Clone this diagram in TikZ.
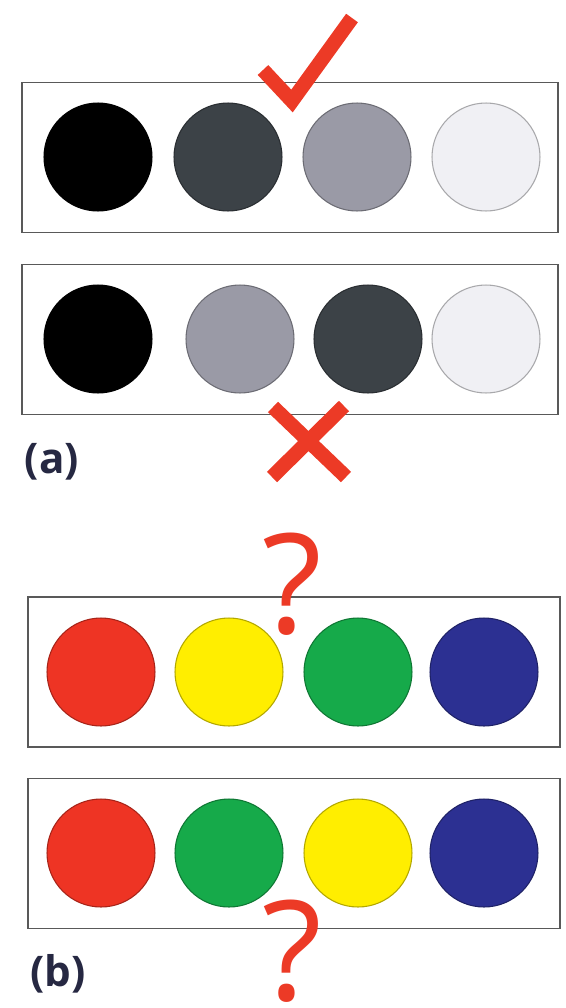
\documentclass[tikz,border=0pt]{standalone}
\usepackage{fontspec}
\setmainfont{Open Sans}
\definecolor{signred}{RGB}{236,58,38}
\definecolor{tagblue}{RGB}{38,40,66}
\definecolor{shadeA}{RGB}{0,0,0}
\definecolor{shadeB}{RGB}{60,66,71}
\definecolor{shadeC}{RGB}{154,154,166}
\definecolor{shadeD}{RGB}{240,240,244}
\definecolor{hueR}{RGB}{238,52,36}
\definecolor{hueY}{RGB}{255,238,0}
\definecolor{hueG}{RGB}{22,170,74}
\definecolor{hueB}{RGB}{44,48,146}
\begin{document}
\begin{tikzpicture}[
  x=0.02cm, y=-0.02cm,
  panel/.style={draw=black!65, line width=1.1pt, minimum height=3cm, inner sep=0pt},
  disc/.style={circle, fill=#1, draw=#1!70!black, line width=0.6pt,
    minimum size=2.16cm, inner sep=0pt},
  signline/.style={draw=signred, line width=0.29cm},
  query/.style={text=signred, inner sep=0pt, font=\fontsize{79}{80}\selectfont},
  tag/.style={text=tagblue, inner sep=0pt, font=\bfseries\fontsize{24}{26}\selectfont},
]
\useasboundingbox (0,0) rectangle (565,1008);

% (a) grey levels
\node[panel, minimum width=10.72cm] (boxA1) at (290,157.5) {};
\node[panel, minimum width=10.72cm] (boxA2) at (290,339.5) {};
\foreach \x/\c [count=\i] in {98/shadeA,228/shadeB,357/shadeC,486/shadeD}
  \node[disc=\c] (greyA\i) at (\x,157) {};
\foreach \x/\c [count=\i] in {98/shadeA,240/shadeC,368/shadeB,486/shadeD}
  \node[disc=\c] (greyB\i) at (\x,339) {};
\draw[signline, line join=miter] (263,70) -- (292,101) -- (352,18);
\draw[signline] (273,407) -- (346,477) (344,406) -- (272,477);
\node[tag] (tagA) at (52,462) {(a)};

% (b) hues
\node[panel, minimum width=10.64cm] (boxB1) at (294,672) {};
\node[panel, minimum width=10.64cm] (boxB2) at (294,853.5) {};
\foreach \x/\c [count=\i] in {101/hueR,229/hueY,358/hueG,484/hueB}
  \node[disc=\c] (hueA\i) at (\x,672) {};
\foreach \x/\c [count=\i] in {101/hueR,229/hueG,358/hueY,484/hueB}
  \node[disc=\c] (hueB\i) at (\x,853) {};
\node[query] (askA) at (292,584) {?};
\node[query] (askB) at (292,951) {?};
\node[tag] (tagB) at (58,974) {(b)};
\end{tikzpicture}
\end{document}
